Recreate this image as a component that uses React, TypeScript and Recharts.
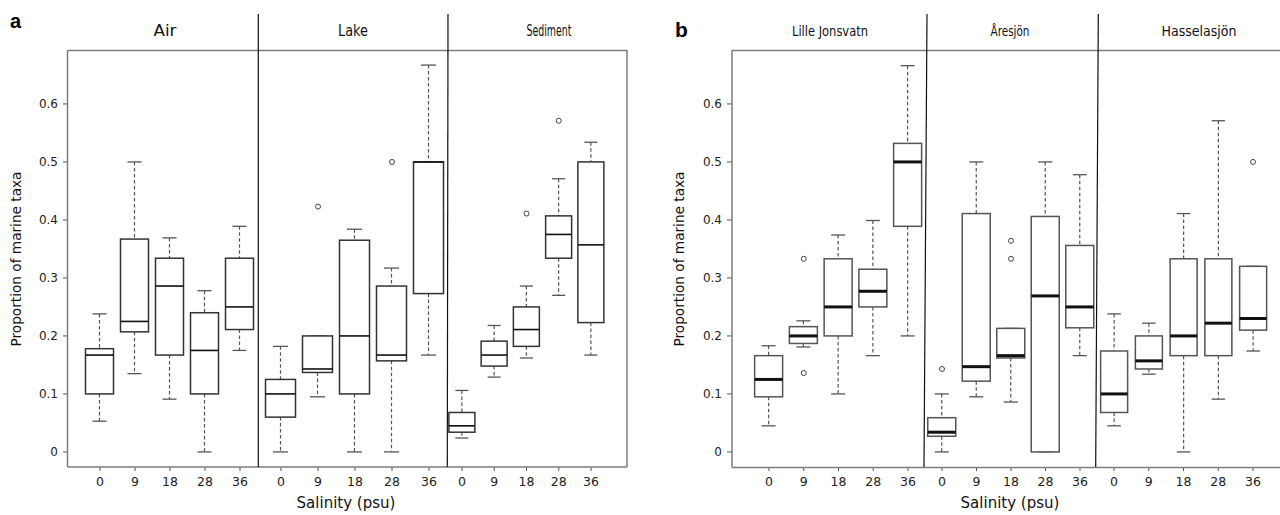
import React from "react";
import { ComposedChart, Bar, XAxis, YAxis, ReferenceDot } from "recharts";

const salinity = ["0", "9", "18", "28", "36"];
const yTicks = [0, 0.1, 0.2, 0.3, 0.4, 0.5, 0.6];

// each row: [min, q1, median, q3, max] for salinity 0, 9, 18, 28, 36
const airStats = [
  [0.053, 0.1, 0.167, 0.178, 0.238],
  [0.135, 0.207, 0.225, 0.367, 0.5],
  [0.091, 0.167, 0.286, 0.334, 0.369],
  [0, 0.1, 0.175, 0.24, 0.278],
  [0.175, 0.211, 0.25, 0.334, 0.389],
];
const lakeStats = [
  [0, 0.06, 0.1, 0.125, 0.182],
  [0.095, 0.137, 0.143, 0.2, 0.2],
  [0, 0.1, 0.2, 0.365, 0.384],
  [0, 0.157, 0.167, 0.286, 0.317],
  [0.167, 0.273, 0.5, 0.5, 0.667],
];
const sedimentStats = [
  [0.024, 0.034, 0.045, 0.068, 0.106],
  [0.129, 0.148, 0.167, 0.191, 0.218],
  [0.162, 0.182, 0.211, 0.25, 0.286],
  [0.27, 0.334, 0.375, 0.407, 0.471],
  [0.167, 0.223, 0.357, 0.5, 0.534],
];
const lilleStats = [
  [0.045, 0.095, 0.125, 0.166, 0.183],
  [0.181, 0.187, 0.2, 0.216, 0.226],
  [0.1, 0.2, 0.25, 0.333, 0.374],
  [0.166, 0.25, 0.277, 0.315, 0.399],
  [0.2, 0.389, 0.5, 0.532, 0.666],
];
const aresjonStats = [
  [0, 0.027, 0.034, 0.059, 0.1],
  [0.095, 0.122, 0.147, 0.411, 0.5],
  [0.086, 0.162, 0.166, 0.213, 0.213],
  [0, 0, 0.269, 0.406, 0.5],
  [0.166, 0.214, 0.25, 0.356, 0.478],
];
const hasselStats = [
  [0.045, 0.068, 0.1, 0.174, 0.238],
  [0.134, 0.143, 0.157, 0.2, 0.222],
  [0, 0.166, 0.2, 0.333, 0.411],
  [0.091, 0.166, 0.222, 0.333, 0.571],
  [0.174, 0.21, 0.23, 0.32, 0.32],
];

// outliers: [salinity, value]
const airOutliers: [string, number][] = [];
const lakeOutliers: [string, number][] = [["9", 0.423], ["28", 0.5]];
const sedimentOutliers: [string, number][] = [["18", 0.411], ["28", 0.571]];
const lilleOutliers: [string, number][] = [["9", 0.333], ["9", 0.136]];
const aresjonOutliers: [string, number][] = [["0", 0.143], ["18", 0.364], ["18", 0.333]];
const hasselOutliers: [string, number][] = [["36", 0.5]];

const Y_DOMAIN: [number, number] = [-0.026, 0.693];
const PLOT_TOP = 50;
const PLOT_H = 417;
const XAXIS_H = 30;
const YAXIS_W = 68;

type Facet = {
  title: string;
  titleW: number;
  titleX: number;
  titleSize: number;
  stats: number[][];
  outliers: [string, number][];
  plotL: number;
  plotR: number;
  t0: number;
  t4: number;
  barW: number;
  yAxis: boolean;
  medianW: number;
  boxStroke: string;
};

const facets: Facet[] = [
  { title: "Air", titleW: 23, titleX: 165, titleSize: 16, stats: airStats, outliers: airOutliers, plotL: 68, plotR: 258, t0: 100, t4: 240, barW: 28, yAxis: true, medianW: 1.6, boxStroke: "#333" },
  { title: "Lake", titleW: 30, titleX: 353, titleSize: 15, stats: lakeStats, outliers: lakeOutliers, plotL: 258, plotR: 447, t0: 281, t4: 429, barW: 30, yAxis: false, medianW: 1.6, boxStroke: "#333" },
  { title: "Sediment", titleW: 45, titleX: 549, titleSize: 15, stats: sedimentStats, outliers: sedimentOutliers, plotL: 447, plotR: 627, t0: 462, t4: 591, barW: 26, yAxis: false, medianW: 1.6, boxStroke: "#333" },
  { title: "Lille Jonsvatn", titleW: 76, titleX: 830, titleSize: 14, stats: lilleStats, outliers: lilleOutliers, plotL: 732, plotR: 925, t0: 769, t4: 908, barW: 28, yAxis: true, medianW: 3, boxStroke: "#555" },
  { title: "Åresjön", titleW: 39, titleX: 1010, titleSize: 13.5, stats: aresjonStats, outliers: aresjonOutliers, plotL: 925, plotR: 1096, t0: 942, t4: 1080, barW: 28, yAxis: false, medianW: 3, boxStroke: "#555" },
  { title: "Hasselasjön", titleW: 75, titleX: 1199, titleSize: 14, stats: hasselStats, outliers: hasselOutliers, plotL: 1096, plotR: 1280, t0: 1114, t4: 1253, barW: 27, yAxis: false, medianW: 3, boxStroke: "#555" },
];

function makeBoxShape(medianW: number, boxStroke: string) {
  return (props: any) => {
    const { x, y, width, height } = props;
    const p = props.payload ?? props;
    const top = Math.min(y, y + height);
    const h = Math.abs(height);
    const span = p.max - p.min || 1;
    const py = (v: number) => top + ((p.max - v) / span) * h;
    const cx = x + width / 2;
    const cap = width * 0.5;
    const wc = "#555";
    return (
      <g>
        {p.max > p.q3 && (
          <line x1={cx} x2={cx} y1={py(p.max)} y2={py(p.q3)} stroke={wc} strokeWidth={1.2} strokeDasharray="3.5 2.5" />
        )}
        {p.q1 > p.min && (
          <line x1={cx} x2={cx} y1={py(p.q1)} y2={py(p.min)} stroke={wc} strokeWidth={1.2} strokeDasharray="3.5 2.5" />
        )}
        <line x1={cx - cap / 2} x2={cx + cap / 2} y1={py(p.max)} y2={py(p.max)} stroke={wc} strokeWidth={1.3} />
        <line x1={cx - cap / 2} x2={cx + cap / 2} y1={py(p.min)} y2={py(p.min)} stroke={wc} strokeWidth={1.3} />
        <rect x={x} y={py(p.q3)} width={width} height={py(p.q1) - py(p.q3)} fill="#fff" stroke={boxStroke} strokeWidth={1.5} />
        <line x1={x} x2={x + width} y1={py(p.med)} y2={py(p.med)} stroke="#111" strokeWidth={medianW} />
      </g>
    );
  };
}

function FacetChart({ f }: { f: Facet }) {
  const yw = f.yAxis ? YAXIS_W : 0;
  const plotW = f.plotR - f.plotL;
  const s = (f.t4 - f.t0) / 4;
  const d0 = -(f.t0 - f.plotL) / s;
  const d1 = 4 + (f.plotR - f.t4) / s;
  const data = f.stats.map((r, i) => ({ pos: i, min: r[0], q1: r[1], med: r[2], q3: r[3], max: r[4] }));
  return (
    <div style={{ position: "absolute", left: f.plotL - yw, top: PLOT_TOP }}>
      <ComposedChart width={plotW + yw} height={PLOT_H + XAXIS_H} data={data} margin={{ top: 0, right: 0, bottom: 0, left: 0 }}>
        <XAxis
          type="number"
          dataKey="pos"
          domain={[d0, d1]}
          ticks={[0, 1, 2, 3, 4]}
          interval={0}
          allowDataOverflow
          tickFormatter={(v: number) => salinity[v]}
          height={XAXIS_H}
          axisLine={false}
          tickSize={4}
          tickMargin={6}
          tick={{ fontSize: 12.5, fill: "#222", fontFamily: "DejaVu Sans" }}
          tickLine={{ stroke: "#555" }}
        />
        <YAxis
          type="number"
          domain={Y_DOMAIN}
          ticks={yTicks}
          interval={0}
          allowDataOverflow
          hide={!f.yAxis}
          width={YAXIS_W}
          axisLine={false}
          tickSize={5}
          tickMargin={5}
          tickFormatter={(v: number) => (v === 0 ? "0" : v.toFixed(1))}
          tick={{ fontSize: 12, fill: "#222", fontFamily: "DejaVu Sans" }}
          tickLine={{ stroke: "#555" }}
        />
        <Bar
          dataKey={(d: any) => [d.min, d.max]}
          barSize={f.barW}
          fill="none"
          shape={makeBoxShape(f.medianW, f.boxStroke)}
          isAnimationActive={false}
        />
        {f.outliers.map((o, i) => (
          <ReferenceDot
            key={i}
            x={salinity.indexOf(o[0])}
            y={o[1]}
            r={2.5}
            fill="#fff"
            stroke="#444"
            strokeWidth={1}
            ifOverflow="visible"
          />
        ))}
      </ComposedChart>
    </div>
  );
}

export default function App() {
  const frame = "#7d7d7d";
  return (
    <div style={{ position: "absolute", left: 0, top: 0, width: 1280, height: 515, background: "#fff", overflow: "hidden", fontFamily: "DejaVu Sans" }}>
      {facets.map((f, i) => (
        <FacetChart key={i} f={f} />
      ))}
      <svg width={1280} height={515} style={{ position: "absolute", left: 0, top: 0, pointerEvents: "none" }}>
        {/* panel a frame */}
        <line x1={67.5} x2={627} y1={50.5} y2={50.5} stroke={frame} strokeWidth={1.5} />
        <line x1={67.5} x2={627} y1={467} y2={467} stroke={frame} strokeWidth={1.5} />
        <line x1={67.5} x2={67.5} y1={50} y2={467} stroke={frame} strokeWidth={1.5} />
        <line x1={627} x2={627} y1={50} y2={467} stroke={frame} strokeWidth={1.5} />
        {/* panel b frame */}
        <line x1={732} x2={1280} y1={50.5} y2={50.5} stroke={frame} strokeWidth={1.5} />
        <line x1={732} x2={1280} y1={467.5} y2={467.5} stroke={frame} strokeWidth={1.5} />
        <line x1={732} x2={732} y1={50} y2={467.5} stroke={frame} strokeWidth={1.5} />
        {/* facet dividers */}
        <line x1={258.3} x2={258.3} y1={14} y2={467} stroke="#111" strokeWidth={1.2} />
        <line x1={448} x2={447.3} y1={14} y2={467} stroke="#111" strokeWidth={1.2} />
        <line x1={927} x2={924} y1={14} y2={467} stroke="#111" strokeWidth={1.2} />
        <line x1={1098.3} x2={1095.7} y1={14} y2={467} stroke="#111" strokeWidth={1.2} />
        {/* strip titles */}
        {facets.map((f, i) => (
          <text key={i} x={f.titleX - f.titleW / 2} y={36} fontSize={f.titleSize} fill="#111" textLength={f.titleW} lengthAdjust="spacingAndGlyphs" fontFamily="DejaVu Sans">
            {f.title}
          </text>
        ))}
        {/* panel letters */}
        <text x={10} y={28} fontSize={20} fontWeight="bold" fill="#000" fontFamily="Liberation Sans">a</text>
        <text x={675} y={37} fontSize={21} fontWeight="bold" fill="#000" fontFamily="Liberation Sans">b</text>
        {/* axis titles */}
        <text x={21} y={259} transform="rotate(-90 21 259)" textAnchor="middle" fontSize={14} fill="#111" textLength={175} lengthAdjust="spacingAndGlyphs" fontFamily="DejaVu Sans">
          Proportion of marine taxa
        </text>
        <text x={684} y={259} transform="rotate(-90 684 259)" textAnchor="middle" fontSize={14} fill="#111" textLength={175} lengthAdjust="spacingAndGlyphs" fontFamily="DejaVu Sans">
          Proportion of marine taxa
        </text>
        <text x={346} y={508} textAnchor="middle" fontSize={15} fill="#111" fontFamily="DejaVu Sans">Salinity (psu)</text>
        <text x={1010} y={508} textAnchor="middle" fontSize={15} fill="#111" fontFamily="DejaVu Sans">Salinity (psu)</text>
      </svg>
    </div>
  );
}
